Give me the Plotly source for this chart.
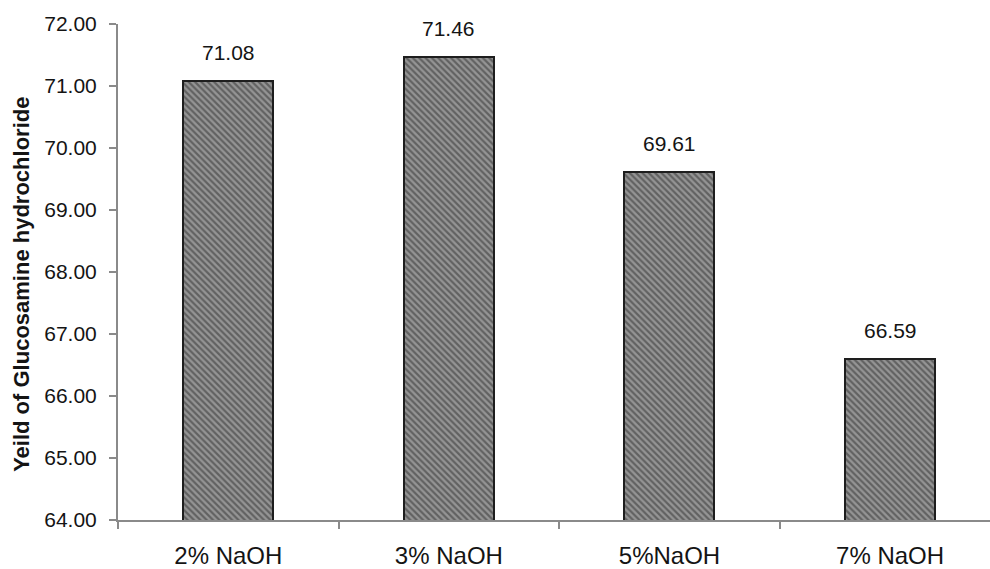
import plotly.graph_objects as go

# Glucosamine hydrochloride yield at different NaOH concentrations
categories = ["2% NaOH", "3% NaOH", "5%NaOH", "7% NaOH"]
yields = [71.08, 71.46, 69.61, 66.59]
y_ticks = [64, 65, 66, 67, 68, 69, 70, 71, 72]
y_tick_text = [f"{v:.2f}" for v in y_ticks]

FONT = "Arial, 'Liberation Sans', sans-serif"
INK = "#141414"

fig = go.Figure()
fig.add_trace(go.Bar(
    x=categories,
    y=yields,
    base=0,
    width=0.408,
    marker=dict(
        color="#8a8a8a",
        line=dict(color="#1e1e1e", width=2),
        pattern=dict(shape="\\", fgcolor="#2e2e2e", bgcolor="#959595",
                     size=4.5, solidity=0.5),
    ),
    hoverinfo="skip",
))

# value labels above each bar
for cat, val in zip(categories, yields):
    fig.add_annotation(
        x=cat, y=val, xref="x", yref="y",
        text=f"{val:.2f}", showarrow=False,
        yanchor="bottom", yshift=15,
        font=dict(family=FONT, size=21, color=INK),
    )

# vertical axis title
fig.add_annotation(
    x=-0.1107, y=0.475, xref="paper", yref="paper",
    text="<b>Yeild of Glucosamine hydrochloride</b>",
    textangle=-90, showarrow=False,
    xanchor="center", yanchor="middle",
    font=dict(family=FONT, size=22, color=INK),
)

fig.update_layout(
    width=990, height=569, autosize=False,
    margin=dict(l=117.6, r=0, t=24, b=47, pad=0),
    plot_bgcolor="white", paper_bgcolor="white",
    showlegend=False,
    bargap=0,
)
fig.update_xaxes(
    type="category",
    range=[-0.5, 3.453],
    showline=True, linecolor="#8a8a8a", linewidth=2,
    ticks="outside", tickson="boundaries", ticklen=7, tickcolor="#8a8a8a", tickwidth=1.5,
    showgrid=False, zeroline=False,
    tickfont=dict(family=FONT, size=24, color=INK),
    ticklabelstandoff=13,
)
fig.update_yaxes(
    range=[64, 72],
    tickvals=y_ticks, ticktext=y_tick_text,
    showline=True, linecolor="#8a8a8a", linewidth=2,
    ticks="outside", ticklen=7, tickcolor="#8a8a8a", tickwidth=1.5,
    showgrid=False, zeroline=False,
    tickfont=dict(family=FONT, size=21, color=INK),
    ticklabelstandoff=8,
)

fig.write_html("out.html")
